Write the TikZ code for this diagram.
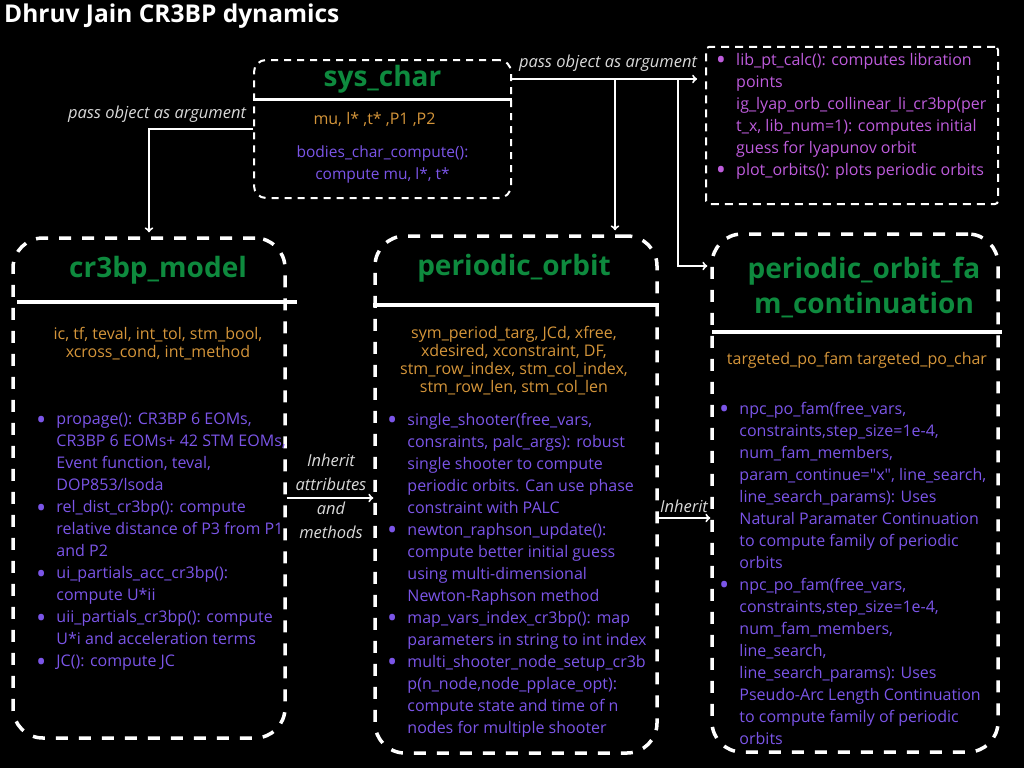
\documentclass[tikz,border=0pt]{standalone}
\usepackage{fontspec}
\setmainfont{Open Sans}[Ligatures=TeXOff]
\usetikzlibrary{positioning}

\definecolor{titlegreen}{HTML}{0E8A3E}
\definecolor{attrorange}{HTML}{D4953A}
\definecolor{methpurple}{HTML}{7B55E8}
\definecolor{libpink}{HTML}{BE5CDC}
\newcommand{\bul}{\llap{\raisebox{-4.5pt}{\scalebox{1.7}{\textbullet}}\hspace{10pt}}}

\begin{document}
\begin{tikzpicture}[x=1pt,y=1pt,
    classbox/.style={draw=white, line width=3.5pt, dash pattern=on 12pt off 11pt,
      rounded corners=30pt, inner sep=0pt},
    smallbox/.style={draw=white, line width=2pt, dash pattern=on 8pt off 6pt, inner sep=0pt},
    sepline/.style={draw=white, line width=4pt},
    clstitle/.style={text=titlegreen, inner sep=0pt, align=center,
      font={\fontsize{28}{35}\selectfont\bfseries}},
    attrs/.style={text=attrorange, inner sep=0pt, align=center,
      font={\fontsize{16}{18}\selectfont}},
    meths/.style={text=methpurple, inner sep=0pt, align=left, anchor=west,
      font={\fontsize{16}{22}\selectfont}},
    note/.style={text=white!85!black, inner sep=0pt, align=center,
      font={\fontsize{16.5}{24}\selectfont\itshape}},
    arr/.style={->, draw=white, line width=2pt}]

  % background and size
  \fill[black] (0,0) rectangle (1024,-768);
  \node[anchor=west, text=white, inner sep=0pt, font={\fontsize{24.5}{28}\selectfont\bfseries}]
    (title) at (4,-16) {Dhruv Jain CR3BP dynamics};

  % boxes
  \node[classbox, rounded corners=12pt, line width=2pt, dash pattern=on 7pt off 6pt,
    minimum width=257, minimum height=138] (sys) at (382.5,-129) {};
  \node[smallbox, rounded corners=3pt, minimum width=292, minimum height=157] (lib) at (852,-125.5) {};
  \node[classbox, minimum width=272, minimum height=500] (model) at (149,-488) {};
  \node[classbox, minimum width=282, minimum height=517] (po) at (516,-494.5) {};
  \node[classbox, minimum width=286, minimum height=518] (fam) at (855,-493) {};

  % sys_char
  \node[clstitle] (sys title) at ([yshift=-20pt]sys.north) {sys\_char};
  \draw[sepline, line width=3pt] ([yshift=-40pt]sys.north west) -- ([yshift=-40pt]sys.north east);
  \node[attrs] (sys attr) at ([xshift=-8pt,yshift=-60pt]sys.north) {mu, l* ,t* ,P1 ,P2};
  \node[attrs, text=methpurple, font={\fontsize{15.5}{22}\selectfont}] (sys meth)
    at ([yshift=-105pt]sys.north) {bodies\_char\_compute():\\compute mu, l*, t*};

  % helper functions
  \node[meths, text=libpink] (lib meth) at ([xshift=31pt,yshift=9pt]lib.west) {%
    \bul lib\_pt\_calc(): computes libration\\
    points\\
    ig\_lyap\_orb\_collinear\_li\_cr3bp(per\\
    t\_x, lib\_num=1): computes initial\\
    guess for lyapunov orbit\\
    \bul plot\_orbits(): plots periodic orbits};

  % cr3bp_model
  \node[clstitle] (model title) at ([xshift=9pt,yshift=-34pt]model.north) {cr3bp\_model};
  \draw[sepline] ([shift={(6pt,-66pt)}]model.north west) -- ([shift={(10pt,-66pt)}]model.north east);
  \node[attrs] (model attr) at ([xshift=9pt,yshift=-107pt]model.north)
    {ic, tf, teval, int\_tol, stm\_bool,\\xcross\_cond, int\_method};
  \node[meths] (model meth) at ([xshift=45pt,yshift=-54pt]model.west) {%
    \bul propage(): CR3BP 6 EOMs,\\
    CR3BP 6 EOMs+ 42 STM EOMs,\\
    Event function, teval,\\
    DOP853/lsoda\\
    \bul rel\_dist\_cr3bp(): compute\\
    relative distance of P3 from P1\\
    and P2\\
    \bul ui\_partials\_acc\_cr3bp():\\
    compute U*ii\\
    \bul uii\_partials\_cr3bp(): compute\\
    U*i and acceleration terms\\
    \bul JC(): compute JC};

  % periodic_orbit
  \node[clstitle] (po title) at ([xshift=-2pt,yshift=-34pt]po.north) {periodic\_orbit};
  \draw[sepline] ([yshift=-71pt]po.north west) -- ([yshift=-71pt]po.north east);
  \node[attrs] (po attr) at ([xshift=-2pt,yshift=-126pt]po.north)
    {sym\_period\_targ, JCd, xfree,\\xdesired, xconstraint, DF,\\
     stm\_row\_index, stm\_col\_index,\\stm\_row\_len, stm\_col\_len};
  \node[meths] (po meth) at ([xshift=34pt,yshift=-80.5pt]po.west) {%
    \bul single\_shooter(free\_vars,\\
    consraints, palc\_args): robust\\
    single shooter to compute\\
    periodic orbits. Can use phase\\
    constraint with PALC\\
    \bul newton\_raphson\_update():\\
    compute better initial guess\\
    using multi-dimensional\\
    Newton-Raphson method\\
    \bul map\_vars\_index\_cr3bp(): map\\
    parameters in string to int index\\
    \bul multi\_shooter\_node\_setup\_cr3b\\
    p(n\_node,node\_pplace\_opt):\\
    compute state and time of n\\
    nodes for multiple shooter};

  % periodic_orbit_fam_continuation
  \node[clstitle] (fam title) at ([xshift=9pt,yshift=-55.5pt]fam.north)
    {periodic\_orbit\_fa\\m\_continuation};
  \draw[sepline] ([shift={(2pt,-100pt)}]fam.north west) -- ([shift={(2pt,-100pt)}]fam.north east);
  \node[attrs] (fam attr) at ([xshift=2pt,yshift=-128pt]fam.north)
    {targeted\_po\_fam targeted\_po\_char};
  \node[meths] (fam meth) at ([xshift=29pt,yshift=-80pt]fam.west) {%
    \bul npc\_po\_fam(free\_vars,\\
    constraints,step\_size=1e-4,\\
    num\_fam\_members,\\
    param\_continue="x", line\_search,\\
    line\_search\_params): Uses\\
    Natural Paramater Continuation\\
    to compute family of periodic\\
    orbits\\
    \bul npc\_po\_fam(free\_vars,\\
    constraints,step\_size=1e-4,\\
    num\_fam\_members,\\
    line\_search,\\
    line\_search\_params): Uses\\
    Pseudo-Arc Length Continuation\\
    to compute family of periodic\\
    orbits};

  % connectors
  \coordinate (bus) at (0,-79);
  \coordinate (drop1) at (615,-79);
  \coordinate (drop2) at (678,-79);
  \coordinate (inh1) at (0,-498);
  \coordinate (inh2) at (0,-518);

  \draw[arr, shorten >=4pt] (sys.west) -| (model.north);
  \draw[arr, shorten >=8pt] (sys.east |- bus) -- (lib.west |- bus);
  \draw[arr, shorten >=4pt] (drop1) -- (drop1 |- po.north);
  \draw[arr, shorten >=3pt] (drop2) |- ([yshift=227pt]fam.west);
  \draw[arr] (model.east |- inh1) -- (po.west |- inh1);
  \draw[arr] (po.east |- inh2) -- (fam.west |- inh2);

  \node[note] (lbl sys model) at (157,-114) {pass object as argument};
  \node[note] (lbl sys lib) at (608,-63) {pass object as argument};
  \node[note] (lbl inherit1) at (331,-496) {Inherit\\attributes\\and\\methods};
  \node[note] (lbl inherit2) at (684,-506) {Inherit};
\end{tikzpicture}
\end{document}
